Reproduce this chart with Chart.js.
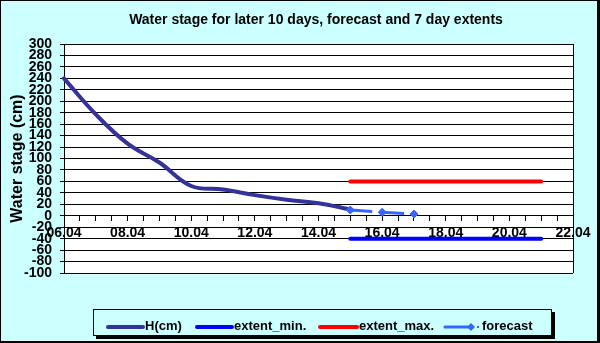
<!DOCTYPE html>
<html>
<head>
<meta charset="utf-8">
<script src="https://cdn.jsdelivr.net/npm/chart.js@4"></script>
<style>
html,body{margin:0;padding:0;background:#ccffff;}
#wrap{width:600px;height:343px;position:relative;}
</style>
</head>
<body>
<div id="wrap"><canvas id="c" width="600" height="343"></canvas></div>
<script>
// ---- data ----
const hDays = [6, 7, 8, 9, 10, 11, 12, 13, 14, 15];
const hValues = [240, 177, 126, 93, 52, 46, 36, 28, 22, 11];
const extentDays = [15, 21];
const extentMin = [-40, -40];
const extentMax = [60, 60];
const forecastDays = [15, 16, 17];
const forecastValues = [10, 6, 3];
const seriesNames = ['H(cm)', 'extent_min.', 'extent_max.', 'forecast'];
const chartTitle = 'Water stage for later 10 days, forecast and 7 day extents';
const yTitle = 'Water stage (cm)';
const monthSuffix = '.04';

const FONT = '"Liberation Sans", Arial, sans-serif';
const pts = (xs, ys) => xs.map((x, i) => ({x: x, y: ys[i]}));

const framePlugin = {
  id: 'frame',
  beforeDraw(chart) {
    const ctx = chart.ctx, a = chart.chartArea;
    ctx.save();
    ctx.fillStyle = '#ccffff';
    ctx.fillRect(0, 0, chart.width, chart.height);
    ctx.fillStyle = '#000';
    ctx.fillRect(0, 0, 600, 1);
    ctx.fillRect(0, 0, 1, 343);
    ctx.fillRect(597, 0, 3, 343);
    ctx.fillRect(0, 341, 600, 2);
    ctx.fillStyle = '#fff';
    ctx.fillRect(a.left, a.top, a.right - a.left, a.bottom - a.top);
    ctx.restore();
  },
  afterDatasetsDraw(chart) {
    const ctx = chart.ctx, a = chart.chartArea;
    ctx.save();
    ctx.strokeStyle = '#000';
    ctx.lineWidth = 1;
    ctx.beginPath();
    ctx.moveTo(Math.round(a.right) + 0.5, a.top);
    ctx.lineTo(Math.round(a.right) + 0.5, a.bottom);
    ctx.stroke();
    ctx.restore();
  },
  afterDraw(chart) {
    const ctx = chart.ctx;
    ctx.save();
    ctx.fillStyle = '#000';
    ctx.font = 'bold 14px ' + FONT;
    ctx.textAlign = 'center';
    ctx.textBaseline = 'middle';
    ctx.fillText(chartTitle, 316, 20);
    ctx.fillStyle = '#000';
    ctx.fillRect(96, 336, 459, 3);
    ctx.fillRect(552, 312, 3, 27);
    ctx.strokeStyle = '#000';
    ctx.lineWidth = 1;
    ctx.strokeRect(93.5, 309.5, 458, 26);
    const ds = chart.data.datasets;
    const y = 327;
    const items = [
      {x1: 108, x2: 143, tx: 145},
      {x1: 197, x2: 232, tx: 234},
      {x1: 320, x2: 357, tx: 359},
      {x1: 445, x2: 468, tx: 482}
    ];
    items.forEach((it, i) => {
      const d = ds[i];
      ctx.strokeStyle = d.borderColor;
      ctx.lineWidth = i === 3 ? 3 : d.borderWidth;
      ctx.lineCap = 'round';
      ctx.beginPath();
      ctx.moveTo(it.x1, y);
      ctx.lineTo(it.x2, y);
      ctx.stroke();
      if (i === 3) {
        ctx.fillStyle = d.borderColor;
        ctx.beginPath();
        ctx.moveTo(471, y - 4); ctx.lineTo(475, y); ctx.lineTo(471, y + 4); ctx.lineTo(467, y);
        ctx.closePath(); ctx.fill();
        ctx.fillRect(477, y - 1, 2, 2);
      }
      ctx.fillStyle = '#000';
      ctx.font = 'bold 13px ' + FONT;
      ctx.textAlign = 'left';
      ctx.textBaseline = 'middle';
      ctx.fillText(seriesNames[i], it.tx, y - 1);
    });
    ctx.restore();
  }
};

new Chart(document.getElementById('c'), {
  type: 'line',
  data: {
    datasets: [
      {label: seriesNames[0], data: pts(hDays, hValues), borderColor: '#333399', borderWidth: 4,
       pointRadius: 0, tension: 0.4, clip: false, borderCapStyle: 'round', order: 2},
      {label: seriesNames[1], data: pts(extentDays, extentMin), borderColor: '#0000ff', borderWidth: 4,
       pointRadius: 0, tension: 0, clip: false, borderCapStyle: 'round', order: 3},
      {label: seriesNames[2], data: pts(extentDays, extentMax), borderColor: '#ff0000', borderWidth: 4,
       pointRadius: 0, tension: 0, clip: false, borderCapStyle: 'round', order: 4},
      {label: seriesNames[3], data: pts(forecastDays, forecastValues), borderColor: '#3366ff',
       backgroundColor: '#3366ff', borderWidth: 3, borderDash: [22, 10], pointStyle: 'rectRot',
       pointRadius: 4, pointBorderWidth: 1, tension: 0, clip: false, order: 1}
    ]
  },
  options: {
    responsive: false,
    animation: false,
    devicePixelRatio: 1,
    layout: {padding: {top: 44, right: 27, bottom: 70, left: 0}},
    plugins: {legend: {display: false}, title: {display: false}, tooltip: {enabled: false}},
    scales: {
      x: {
        type: 'linear',
        position: {y: 0},
        min: 6, max: 22,
        ticks: {
          stepSize: 0.5, autoSkip: false, maxRotation: 0, padding: 4,
          color: '#000', font: {family: FONT, size: 14, weight: 'bold'},
          callback: v => (Number.isInteger(v) && v % 2 === 0) ? String(v).padStart(2, '0') + monthSuffix : ''
        },
        grid: {drawOnChartArea: false, drawTicks: true, tickLength: 5, color: '#000'},
        border: {color: '#000', width: 1}
      },
      y: {
        min: -100, max: 300,
        afterFit(s) { s.width = 64; },
        ticks: {stepSize: 20, autoSkip: false, padding: 8, color: '#000',
                font: {family: FONT, size: 14, weight: 'bold'}},
        grid: {color: '#000', tickLength: 4, lineWidth: 1},
        border: {color: '#000', width: 1},
        title: {display: true, text: yTitle, color: '#000', padding: {top: 8, bottom: 0},
                font: {family: FONT, size: 16, weight: 'bold'}}
      }
    }
  },
  plugins: [framePlugin]
});
</script>
</body>
</html>
